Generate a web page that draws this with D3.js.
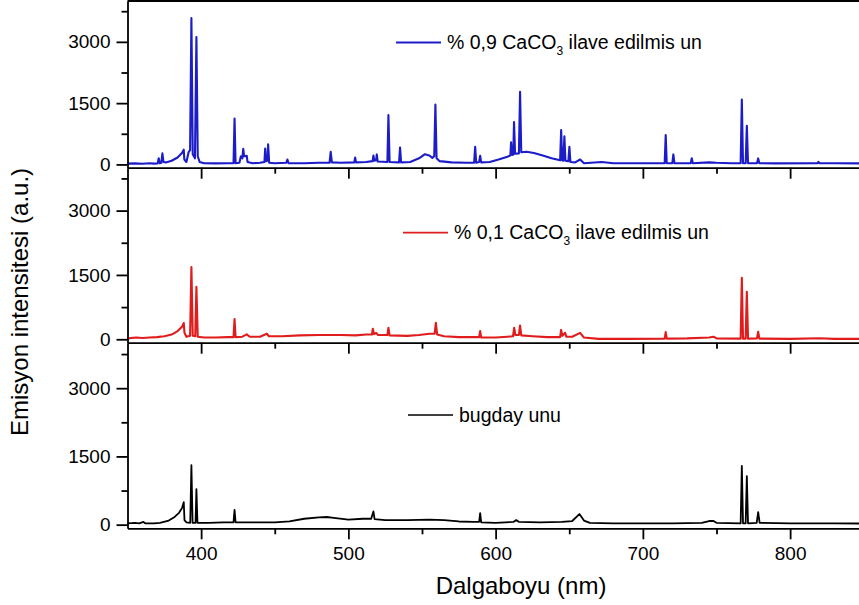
<!DOCTYPE html>
<html>
<head>
<meta charset="utf-8">
<script src="https://cdn.jsdelivr.net/npm/d3@7"></script>
<style>
  body { margin: 0; background: #fff; }
  svg { display: block; font-family: Arial, "Liberation Sans", sans-serif; }
  .axis path, .axis line { stroke: #000; stroke-width: 1.8; }
  .axis text { font-size: 19px; fill: #000; }
</style>
</head>
<body>
<svg id="chart" width="859" height="605"></svg>
<script>
// spectra: [wavelength (nm), intensity (a.u.)]
var spec09 = [
  [350, 20], [355, 25], [360, 15], [365, 30], [368, 20], [370.5, 25], [371.2, 150], [371.9, 30],
  [373, 40], [373.7, 270], [374.4, 60], [376, 50], [380, 90], [384, 170], [387, 280], [388.2, 360],
  [388.6, 120], [390, 60], [391.5, 300], [392.5, 350], [393.4, 3580], [394.3, 250], [395.8, 150],
  [396.8, 3120], [397.7, 200], [399, 60], [402, 30], [410, 25], [418, 30], [422, 30], [422.7, 1125],
  [423.4, 30], [426, 40], [427, 200], [428, 150], [428.6, 380], [429.2, 200], [431, 210], [431.5, 60],
  [435, 30], [440, 40], [443, 60], [443.5, 390], [444, 80], [445, 90], [445.5, 490], [446.2, 40],
  [450, 30], [457.8, 40], [458.6, 120], [459.4, 30], [470, 30], [480, 40], [487.2, 40], [488, 310],
  [488.8, 50], [495, 40], [504, 50], [504.6, 170], [505.2, 50], [512, 60], [516.5, 80], [517, 220],
  [517.6, 90], [518.8, 100], [519.3, 245], [519.9, 70], [526.5, 60], [527.2, 1206], [528, 60],
  [534.4, 50], [535.1, 416], [535.8, 50], [542, 60], [548, 150], [552, 250], [555, 220], [557, 160],
  [558.3, 200], [559.1, 1468], [559.9, 150], [562, 80], [570, 50], [580, 40], [585.4, 40], [586.1, 430],
  [586.8, 40], [588.8, 60], [589.5, 210], [590.2, 50], [596, 60], [602, 120], [608, 190], [610, 220],
  [610.5, 540], [611.2, 230], [612, 240], [612.5, 1040], [613.2, 260], [615.8, 270], [616.6, 1780],
  [617.4, 300], [621, 310], [626, 280], [632, 220], [638, 150], [643.8, 100], [644.5, 840], [645.2, 100],
  [646, 90], [646.7, 690], [647.4, 90], [649.4, 80], [650.1, 430], [650.8, 60], [654, 50], [657.4, 120],
  [660, 30], [672, 60], [680, 30], [700, 30], [714.8, 30], [715.5, 720], [716.2, 30], [720, 30],
  [720.7, 245], [721.4, 30], [732.5, 30], [733.2, 150], [733.9, 30], [745, 50], [750, 40], [760, 30],
  [766.4, 30], [767.2, 1590], [768, 30], [769.8, 30], [770.6, 945], [771.4, 30], [777.5, 30],
  [778.3, 147], [779.1, 30], [790, 25], [818.5, 30], [819.2, 60], [820, 30], [830, 30], [850, 25]
];

var spec01 = [
  [350, 20], [356, 40], [360, 30], [365, 40], [370, 50], [375, 70], [380, 110], [384, 190], [387, 290],
  [388.2, 380], [388.7, 150], [390, 60], [392.5, 80], [393.4, 1683], [394.3, 80], [396, 70],
  [396.8, 1223], [397.7, 60], [402, 40], [410, 40], [418, 50], [422, 50], [422.7, 474], [423.4, 50],
  [428, 60], [431, 115], [433, 60], [440, 60], [444.6, 130], [446, 70], [455, 70], [467, 90], [480, 100],
  [495, 100], [505, 90], [512, 110], [516, 110], [516.6, 245], [517.4, 120], [518.9, 150], [520, 100],
  [526.5, 100], [527.2, 268], [528, 90], [540, 80], [548, 100], [555, 130], [558.6, 130], [559.4, 382],
  [560.3, 110], [565, 70], [575, 50], [585, 50], [588.8, 50], [589.5, 191], [590.2, 40], [600, 40],
  [608, 60], [611.8, 70], [612.6, 268], [613.4, 100], [615.8, 100], [616.6, 321], [617.4, 90], [625, 70],
  [635, 50], [643.8, 50], [644.5, 218], [645.3, 80], [647.2, 150], [648, 60], [652, 60], [657.4, 150],
  [660, 40], [670, 10], [690, 10], [714.8, 15], [715.5, 168], [716.2, 15], [730, 20], [745, 40],
  [748, 60], [750, 20], [766.4, 15], [767.2, 1431], [768, 15], [769.8, 15], [770.6, 1109], [771.4, 15],
  [777.5, 20], [778.3, 176], [779.1, 15], [800, 10], [820, 25], [830, 10], [850, 10]
];

var specFlour = [
  [350, 30], [355, 40], [358, 30], [360.8, 60], [362, 30], [368, 30], [372, 40], [378, 90], [382, 170],
  [385, 260], [387, 364], [388.2, 495], [388.7, 100], [390, 50], [392.6, 40], [393.4, 1307], [394.2, 40],
  [396.2, 40], [396.8, 778], [397.5, 40], [405, 40], [415, 50], [422, 50], [422.7, 327], [423.4, 50],
  [435, 50], [450, 50], [460, 70], [470, 130], [480, 160], [485.3, 168], [490, 150], [500, 110],
  [510, 130], [515.5, 130], [516.3, 220], [517, 291], [517.8, 120], [525, 100], [540, 100], [555, 110],
  [565, 100], [575, 70], [585, 60], [588.8, 60], [589.5, 254], [590.2, 50], [600, 40], [612, 60],
  [614, 100], [616, 60], [630, 50], [645, 60], [652, 80], [656.9, 233], [660, 90], [664, 40], [680, 30],
  [700, 30], [720, 30], [740, 40], [745, 80], [748, 80], [750, 40], [766.4, 30], [767.2, 1294], [768, 30],
  [769.8, 30], [770.6, 1068], [771.4, 30], [777.3, 40], [778.3, 277], [779.3, 40], [800, 30], [830, 30],
  [850, 25]
];

var xTicks = [400, 500, 600, 700, 800];
var xMinor = [450, 550, 650, 750, 850];
var yTicks = [0, 1500, 3000];
var yMinor = [750, 2250, 3750];

var svg = d3.select("#chart");

var x = d3.scaleLinear().domain([350, 850]).range([127.5, 863.75]);

// three stacked panels, top to bottom
var panels = [
  {data: spec09, color: "#1c1cc8", top: 1, bottom: 167.7,
   label: ["% 0,9 CaCO", "3", " ilave edilmis un"], lx: 396, ly: 42.5},
  {data: spec01, color: "#e01c1c", top: 167.7, bottom: 342.7,
   label: ["% 0,1 CaCO", "3", " ilave edilmis un"], lx: 403, ly: 232.7},
  {data: specFlour, color: "#000", top: 342.7, bottom: 528.3,
   label: ["bugday unu"], lx: 408, ly: 415}
];

panels.forEach(function(p, i) {
  var y = d3.scaleLinear().domain([-80, 4000]).range([p.bottom, p.top]);

  var line = d3.line()
    .x(function(d) { return x(d[0]); })
    .y(function(d) { return y(d[1]); });

  svg.append("path")
    .datum(p.data)
    .attr("fill", "none")
    .attr("stroke", p.color)
    .attr("stroke-width", i == 2 ? 1.8 : 2.1)
    .attr("stroke-linejoin", "round")
    .attr("d", line);

  // left axis
  svg.append("g")
    .attr("class", "axis")
    .attr("transform", "translate(" + x(350) + ",0)")
    .call(d3.axisLeft(y).tickValues(yTicks).tickFormat(d3.format("d"))
      .tickSize(11).tickSizeOuter(0).tickPadding(6));

  svg.append("g")
    .attr("class", "axis")
    .attr("transform", "translate(" + x(350) + ",0)")
    .call(d3.axisLeft(y).tickValues(yMinor).tickSize(6).tickSizeOuter(0).tickFormat(""))
    .select(".domain").remove();

  // bottom axis of each panel
  var xa = d3.axisBottom(x).tickValues(xTicks).tickFormat(d3.format("d"))
    .tickSize(11).tickSizeOuter(0).tickPadding(7);
  if (i < panels.length - 1) xa.tickFormat("");
  svg.append("g")
    .attr("class", "axis")
    .attr("transform", "translate(0," + p.bottom + ")")
    .call(xa);

  svg.append("g")
    .attr("class", "axis")
    .attr("transform", "translate(0," + p.bottom + ")")
    .call(d3.axisBottom(x).tickValues(xMinor).tickSize(6).tickSizeOuter(0).tickFormat(""))
    .select(".domain").remove();

  // legend
  svg.append("line")
    .attr("x1", p.lx).attr("x2", p.lx + 45)
    .attr("y1", p.ly).attr("y2", p.ly)
    .attr("stroke", p.color)
    .attr("stroke-width", i == 2 ? 1.4 : 1.8);

  var t = svg.append("text")
    .attr("x", p.lx + 51)
    .attr("y", p.ly + 6.5)
    .attr("font-size", "19.5px")
    .text(p.label[0]);
  if (p.label.length > 1) {
    t.append("tspan").attr("font-size", "12px").attr("dy", 6).text(p.label[1]);
    t.append("tspan").attr("dy", -6).text(p.label[2]);
  }
});

// frame top
svg.append("line")
  .attr("x1", x(350)).attr("x2", x(850))
  .attr("y1", 1).attr("y2", 1)
  .attr("stroke", "#000").attr("stroke-width", 2);

// axis titles
svg.append("text")
  .attr("transform", "translate(28,302) rotate(-90)")
  .attr("text-anchor", "middle")
  .attr("font-size", "24px")
  .text("Emisyon intensitesi (a.u.)");

svg.append("text")
  .attr("x", 521)
  .attr("y", 594)
  .attr("text-anchor", "middle")
  .attr("font-size", "24px")
  .text("Dalgaboyu (nm)");
</script>
</body>
</html>
